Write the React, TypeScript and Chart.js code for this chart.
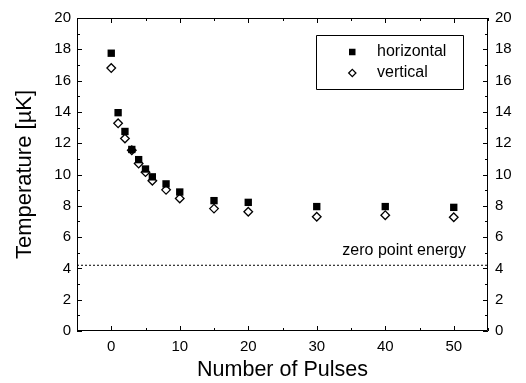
import React, { useEffect, useRef } from 'react';
import { Chart, registerables } from 'chart.js';

Chart.register(...registerables);

const pulses = [0, 1, 2, 3, 4, 5, 6, 8, 10, 15, 20, 30, 40, 50];
const horizontal = [17.75, 13.95, 12.75, 11.6, 10.95, 10.35, 9.85, 9.4, 8.88, 8.33, 8.22, 7.95, 7.95, 7.9];
const vertical = [16.8, 13.27, 12.3, 11.55, 10.7, 10.15, 9.6, 9.02, 8.47, 7.82, 7.62, 7.3, 7.4, 7.27];
const zeroPointEnergy = 4.2;
const zeroPointLabel = 'zero point energy';
const xMin = -5;
const xMax = 55;
const yMin = 0;
const yMax = 20;
const xTicks = [0, 10, 20, 30, 40, 50];
const xMinorTicks = [-5, 5, 15, 25, 35, 45, 55];
const yTicks = [0, 2, 4, 6, 8, 10, 12, 14, 16, 18, 20];
const yMinorTicks = [1, 3, 5, 7, 9, 11, 13, 15, 17, 19];
const xTitle = 'Number of Pulses';
const yTitle = 'Temperature [µK]';

const FONT = "'Liberation Sans', Arial, Helvetica, sans-serif";

const framePlugin = {
  id: 'frameTicks',
  afterDatasetsDraw(chart: any) {
    const { ctx, chartArea } = chart;
    const { left, right, top, bottom } = chartArea;
    const xs = chart.scales.x;
    const ys = chart.scales.y;
    ctx.save();
    ctx.strokeStyle = '#000';
    ctx.lineWidth = 1;
    ctx.beginPath();
    ctx.rect(Math.round(left) + 0.5, Math.round(top) + 0.5, Math.round(right - left) - 1, Math.round(bottom - top) - 1);
    ctx.stroke();
    const major = 5;
    const minor = 3;
    ctx.beginPath();
    const xt = (v: number, len: number) => {
      const px = Math.round(xs.getPixelForValue(v)) + 0.5;
      ctx.moveTo(px, bottom);
      ctx.lineTo(px, bottom - len);
      ctx.moveTo(px, top);
      ctx.lineTo(px, top + len);
    };
    const yt = (v: number, len: number) => {
      const py = Math.round(ys.getPixelForValue(v)) + 0.5;
      ctx.moveTo(left, py);
      ctx.lineTo(left + len, py);
      ctx.moveTo(right, py);
      ctx.lineTo(right - len, py);
    };
    xTicks.forEach((v) => xt(v, major));
    xMinorTicks.forEach((v) => xt(v, minor));
    yTicks.forEach((v) => yt(v, major));
    yMinorTicks.forEach((v) => yt(v, minor));
    ctx.stroke();

    // zero point energy label
    ctx.fillStyle = '#000';
    ctx.font = `16px ${FONT}`;
    ctx.textAlign = 'right';
    ctx.textBaseline = 'alphabetic';
    ctx.fillText(zeroPointLabel, right - 22, ys.getPixelForValue(zeroPointEnergy) - 10);

    // legend
    const bx = right - 172;
    const by = top + 17;
    const bw = 147;
    const bh = 54;
    ctx.beginPath();
    ctx.rect(Math.round(bx) + 0.5, Math.round(by) + 0.5, bw, bh);
    ctx.stroke();
    const ds = chart.data.datasets;
    const rows = [by + 17, by + 38];
    // square
    ctx.fillStyle = ds[0].backgroundColor;
    ctx.fillRect(bx + 33, rows[0] - 3.25, 6.5, 6.5);
    // diamond
    const cx = bx + 36.3;
    const cy = rows[1];
    const r = 3.6;
    ctx.beginPath();
    ctx.moveTo(cx, cy - r);
    ctx.lineTo(cx + r, cy);
    ctx.lineTo(cx, cy + r);
    ctx.lineTo(cx - r, cy);
    ctx.closePath();
    ctx.fillStyle = '#fff';
    ctx.fill();
    ctx.lineWidth = 1.3;
    ctx.stroke();
    ctx.fillStyle = '#000';
    ctx.textAlign = 'left';
    ctx.textBaseline = 'middle';
    ctx.fillText(ds[0].label, bx + 61, rows[0]);
    ctx.fillText(ds[1].label, bx + 61, rows[1]);
    ctx.restore();
  },
};

export default function App() {
  const ref = useRef<HTMLCanvasElement>(null);
  useEffect(() => {
    const canvas = ref.current!;
    const tickFont = { family: FONT, size: 15 };
    const chart = new Chart(canvas, {
      type: 'scatter',
      data: {
        datasets: [
          {
            label: 'horizontal',
            data: pulses.map((x, i) => ({ x, y: horizontal[i] })),
            pointStyle: 'rect',
            pointRadius: 5.2,
            backgroundColor: '#000',
            borderColor: '#000',
            borderWidth: 0,
          },
          {
            label: 'vertical',
            data: pulses.map((x, i) => ({ x, y: vertical[i] })),
            pointStyle: 'rectRot',
            pointRadius: 4.3,
            backgroundColor: '#fff',
            borderColor: '#000',
            borderWidth: 1.3,
          },
          {
            label: zeroPointLabel,
            type: 'line',
            data: [
              { x: xMin, y: zeroPointEnergy },
              { x: xMax, y: zeroPointEnergy },
            ],
            borderColor: '#000',
            borderWidth: 1,
            borderDash: [2, 2],
            pointRadius: 0,
            showLine: true,
          } as any,
        ],
      },
      options: {
        responsive: false,
        animation: false,
        layout: { padding: { top: 18, left: 0, right: 0, bottom: 0 } },
        plugins: { legend: { display: false }, tooltip: { enabled: false } },
        scales: {
          x: {
            type: 'linear',
            position: 'bottom',
            min: xMin,
            max: xMax,
            afterBuildTicks: (s: any) => {
              s.ticks = xTicks.map((v) => ({ value: v }));
            },
            afterFit: (s: any) => {
              s.height = 52;
            },
            grid: { display: false, drawTicks: false },
            border: { display: false },
            ticks: { font: tickFont, color: '#000', padding: 7, maxRotation: 0 },
            title: { display: true, text: xTitle, font: { family: FONT, size: 21.5 }, color: '#000', padding: 0 },
          },
          y: {
            type: 'linear',
            position: 'left',
            min: yMin,
            max: yMax,
            afterBuildTicks: (s: any) => {
              s.ticks = yTicks.map((v) => ({ value: v }));
            },
            afterFit: (s: any) => {
              s.width = 77;
            },
            grid: { display: false, drawTicks: false },
            border: { display: false },
            ticks: { font: tickFont, color: '#000', padding: 6 },
            title: { display: true, text: yTitle, font: { family: FONT, size: 22 }, color: '#000', padding: { top: 12, bottom: 0 } },
          },
          y2: {
            type: 'linear',
            position: 'right',
            min: yMin,
            max: yMax,
            afterBuildTicks: (s: any) => {
              s.ticks = yTicks.map((v) => ({ value: v }));
            },
            afterFit: (s: any) => {
              s.width = 38;
            },
            grid: { display: false, drawTicks: false },
            border: { display: false },
            ticks: { font: tickFont, color: '#000', padding: 7 },
          },
        },
      },
      plugins: [framePlugin],
    });
    return () => chart.destroy();
  }, []);
  return (
    <div style={{ position: 'absolute', left: 0, top: 0, width: 526, height: 383, background: '#fff' }}>
      <canvas ref={ref} width={526} height={383} />
    </div>
  );
}
